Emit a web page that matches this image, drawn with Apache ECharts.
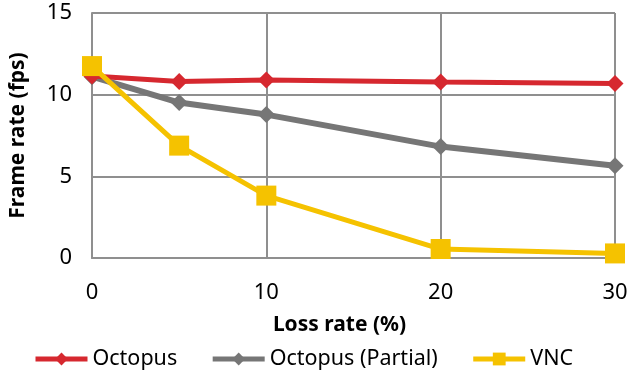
<!DOCTYPE html>
<html>
<head>
<meta charset="utf-8">
<script src="https://cdn.jsdelivr.net/npm/echarts@6/dist/echarts.min.js"></script>
<style>
  html, body { margin: 0; padding: 0; background: #fff; }
  #chart { width: 631px; height: 371px; }
</style>
</head>
<body>
<div id="chart"></div>
<script>
// Loss rate (%) on the x axis
const lossRates = [0, 5, 10, 20, 30];
// Frame rate (fps) per series
const octopus = [11.15, 10.8, 10.9, 10.78, 10.68];
const octopusPartial = [11.1, 9.52, 8.78, 6.82, 5.65];
const vnc = [11.75, 6.88, 3.82, 0.55, 0.28];
const xTicks = [0, 10, 20, 30];
const yTicks = [0, 5, 10, 15];

const FONT = 'Noto Sans';
const pairs = (ys) => lossRates.map((x, i) => [x, ys[i]]);

const chart = echarts.init(document.getElementById('chart'), null, { renderer: 'canvas' });

const gridColor = '#8f8f8f';

chart.setOption({
  animation: false,
  textStyle: { fontFamily: FONT, color: '#000' },
  grid: { left: 91, right: 16, top: 13, bottom: 113, containLabel: false },
  legend: {
    top: 343,
    left: 28,
    itemWidth: 52,
    itemHeight: 16,
    itemGap: 33,
    lineStyle: { width: 5 },
    textStyle: { fontFamily: FONT, fontSize: 21.5, color: '#000' },
    data: ['Octopus', 'Octopus (Partial)', 'VNC']
  },
  xAxis: {
    type: 'value',
    min: xTicks[0],
    max: xTicks[xTicks.length - 1],
    interval: 10,
    name: 'Loss rate (%)',
    nameLocation: 'middle',
    nameGap: 57,
    nameTextStyle: { fontFamily: FONT, fontSize: 21, fontWeight: 'bold', color: '#000', padding: [0, 28, 0, 0] },
    axisLine: { lineStyle: { color: gridColor, width: 2 } },
    axisTick: { show: false },
    axisLabel: { fontFamily: FONT, fontSize: 22, color: '#000', margin: 24 },
    splitLine: { show: true, lineStyle: { color: gridColor, width: 2 } }
  },
  yAxis: {
    type: 'value',
    min: yTicks[0],
    max: yTicks[yTicks.length - 1],
    interval: 5,
    name: 'Frame rate (fps)',
    nameLocation: 'middle',
    nameGap: 63,
    nameTextStyle: { fontFamily: FONT, fontSize: 21, fontWeight: 'bold', color: '#000' },
    axisLine: { show: true, lineStyle: { color: gridColor, width: 2 } },
    axisTick: { show: false },
    axisLabel: { fontFamily: FONT, fontSize: 22, color: '#000', margin: 20 },
    splitLine: { show: true, lineStyle: { color: gridColor, width: 2 } }
  },
  series: [
    {
      name: 'Octopus',
      type: 'line',
      data: pairs(octopus),
      symbol: 'diamond',
      symbolSize: 17,
      color: '#d6282f',
      lineStyle: { width: 5, color: '#d6282f' },
      itemStyle: { color: '#d6282f' },
      z: 4
    },
    {
      name: 'Octopus (Partial)',
      type: 'line',
      data: pairs(octopusPartial),
      symbol: 'diamond',
      symbolSize: 17,
      color: '#767676',
      lineStyle: { width: 6, color: '#767676' },
      itemStyle: { color: '#767676' },
      z: 3
    },
    {
      name: 'VNC',
      type: 'line',
      data: pairs(vnc),
      symbol: 'rect',
      symbolSize: 20,
      color: '#f5c200',
      lineStyle: { width: 5, color: '#f5c200' },
      itemStyle: { color: '#f5c200' },
      z: 5
    }
  ]
});
</script>
</body>
</html>
